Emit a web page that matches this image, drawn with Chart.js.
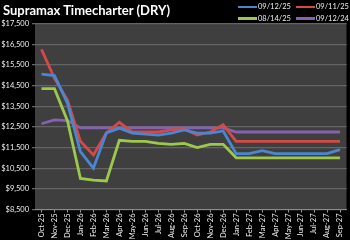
<!DOCTYPE html>
<html>
<head>
<meta charset="utf-8">
<script src="https://cdn.jsdelivr.net/npm/chart.js@4"></script>
<style>
  html, body { margin: 0; padding: 0; background: #000; }
  #wrap { position: relative; width: 350px; height: 240px; }
  #title { position: absolute; left: 3px; top: 2px; color: #fff; font: bold 13px Lato, sans-serif; }
  #legend { position: absolute; left: 238px; top: 1px; width: 116px; display: grid; grid-template-columns: 58px 58px; }
  .item { display: flex; align-items: center; height: 11.5px; color: #eee; font: 7.5px Lato, sans-serif; white-space: nowrap; }
  .item span.sw { display: inline-block; width: 19px; height: 2.5px; margin-right: 1px; }
</style>
</head>
<body>
<div id="wrap">
  <canvas id="chart" width="350" height="240"></canvas>
  <div id="title">Supramax Timecharter (DRY)</div>
  <div id="legend"></div>
</div>
<script>
// --- DATA ---
const months = ['Oct-25', 'Nov-25', 'Dec-25', 'Jan-26', 'Feb-26', 'Mar-26', 'Apr-26', 'May-26',
    'Jun-26', 'Jul-26', 'Aug-26', 'Sep-26', 'Oct-26', 'Nov-26', 'Dec-26', 'Jan-27',
    'Feb-27', 'Mar-27', 'Apr-27', 'May-27', 'Jun-27', 'Jul-27', 'Aug-27', 'Sep-27'];

const seriesLabels = ['09/12/25', '09/11/25', '08/14/25', '09/12/24'];

const curve091225 = [15050, 14980, 13650, 11300, 10500, 12200, 12440, 12200, 12150, 12100, 12200, 12350,
    12200, 12200, 12300, 11200, 11200, 11350, 11200, 11200, 11200, 11200, 11200, 11400];
const curve091125 = [16250, 14850, 13800, 11800, 11140, 12200, 12720, 12250, 12250, 12250, 12350, 12400,
    12100, 12250, 12600, 11800, 11800, 11800, 11800, 11800, 11800, 11800, 11800, 11800];
const curve081425 = [14350, 14350, 12800, 10000, 9920, 9880, 11850, 11800, 11800, 11700, 11650, 11700,
    11500, 11650, 11650, 11000, 11000, 11000, 11000, 11000, 11000, 11000, 11000, 11000];
const curve091224 = [12650, 12840, 12800, 12450, 12450, 12450, 12450, 12450, 12450, 12450, 12450, 12450,
    12450, 12450, 12450, 12250, 12250, 12250, 12250, 12250, 12250, 12250, 12250, 12250];

const yMin = 8500;
const yMax = 17500;
const yStep = 1000;

const colors = ['#4a86d2', '#d44a46', '#9cc84c', '#8662ae'];

// --- CHART ---
const plotBg = {
    id: 'plotBg',
    beforeDraw(chart) {
        const a = chart.chartArea;
        const c = chart.ctx;
        c.save();
        c.fillStyle = '#3f3f3f';
        c.fillRect(a.left, a.top, a.right - a.left, a.bottom - a.top);
        c.restore();
    }
};

const allSeries = [curve091225, curve091125, curve081425, curve091224];

const ctx = document.getElementById('chart').getContext('2d');
const chart = new Chart(ctx, {
    type: 'line',
    data: {
        labels: months,
        datasets: allSeries.map((d, i) => ({
            label: seriesLabels[i],
            data: d,
            borderColor: colors[i],
            borderWidth: 2.8,
            pointRadius: 0,
            tension: 0,
            fill: false
        }))
    },
    options: {
        responsive: false,
        animation: false,
        layout: { padding: { top: 23.5, right: 0, left: 0, bottom: 0 } },
        plugins: { legend: { display: false }, tooltip: { enabled: false } },
        scales: {
            x: {
                offset: true,
                afterFit: s => { s.height = 30.5; },
                grid: { drawOnChartArea: false, drawTicks: true, tickLength: 3, color: '#9a9a9a' },
                border: { display: true, color: '#8a8a8a', width: 1 },
                ticks: {
                    color: '#f0f0f0', padding: 1, minRotation: 90, maxRotation: 90, autoSkip: false,
                    font: { family: 'Lato', size: 7.5 }
                }
            },
            y: {
                min: yMin,
                max: yMax,
                afterFit: s => { s.width = 35; },
                grid: { color: '#646464', lineWidth: 1.3, tickLength: 3 },
                border: { display: false },
                ticks: {
                    stepSize: yStep, color: '#f0f0f0', padding: 3,
                    font: { family: 'Lato', size: 7.5 },
                    callback: v => '$' + v.toLocaleString('en-US')
                }
            }
        }
    },
    plugins: [plotBg]
});

// Legend (two rows, top right)
const legend = document.getElementById('legend');
seriesLabels.forEach((lab, i) => {
    const el = document.createElement('div');
    el.className = 'item';
    el.innerHTML = '<span class="sw" style="background:' + colors[i] + '"></span>' + lab;
    legend.appendChild(el);
});
</script>
</body>
</html>
